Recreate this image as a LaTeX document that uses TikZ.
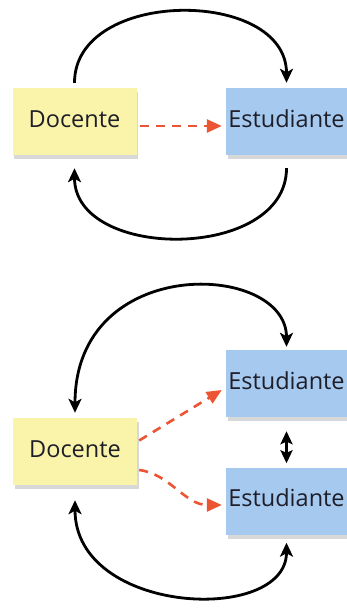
\documentclass[tikz,border=0pt]{standalone}
\usepackage{fontspec}
\setmainfont{Open Sans}
\usetikzlibrary{arrows.meta,shadows}
\definecolor{notey}{HTML}{FAF4AA}
\definecolor{noteb}{HTML}{A6C9F0}
\definecolor{dashred}{HTML}{EB5533}
\definecolor{inkc}{HTML}{1E1E28}
\begin{document}
\begin{tikzpicture}[x=1pt,y=-1pt,
  note/.style={minimum height=67pt,inner sep=0pt,text height=17pt,text depth=6pt,
    font=\fontsize{23.5}{28}\selectfont,text=inkc,
    drop shadow={shadow xshift=1.5pt,shadow yshift=-4pt,opacity=0.3}},
  docnote/.style={note,fill=notey,minimum width=124pt},
  estnote/.style={note,fill=noteb,minimum width=121pt},
  loopline/.style={line width=2.8pt,draw=black},
  reddash/.style={line width=2.6pt,draw=dashred,dash pattern=on 9pt off 7pt,
    -{Triangle[length=15pt,width=13pt]}}
]
\fill[white] (0,0) rectangle (347,608);
\useasboundingbox (0,0) rectangle (347,608);

% top section
\node[docnote] (d1) at (74.5,121.5) {Docente};
\node[estnote] (e1) at (286.5,121.5) {Estudiante};
\draw[loopline,-{Stealth[length=14pt,width=13pt,inset=3.5pt]}]
  ([yshift=5pt]d1.north) .. controls +(0,-95) and +(0,-95) .. ([yshift=5pt]e1.north);
\draw[loopline,-{Stealth[length=14pt,width=13pt,inset=3.5pt]}]
  ([yshift=-13pt]e1.south) .. controls +(0,93) and +(0,93) .. ([yshift=-13pt]d1.south);
\draw[reddash] ([xshift=3pt,yshift=-4.5pt]d1.east) -- ([xshift=-4pt,yshift=-4.5pt]e1.west);

% bottom section
\node[docnote] (d2) at (75,451.5) {Docente};
\node[estnote] (e2) at (286.5,383.5) {Estudiante};
\node[estnote] (e3) at (286.5,501) {Estudiante};
\draw[loopline,{Stealth[length=14pt,width=13pt,inset=3.5pt]}-{Stealth[length=14pt,width=13pt,inset=3.5pt]}]
  ([yshift=5pt]d2.north) .. controls +(0,-160) and +(0,-85) .. ([yshift=3pt]e2.north);
\draw[loopline,{Stealth[length=14pt,width=13pt,inset=3.5pt]}-{Stealth[length=14pt,width=13pt,inset=3.5pt]}]
  ([yshift=-15pt]d2.south) .. controls +(0,115) and +(0,82) .. ([yshift=-8pt]e3.south);
\draw[loopline,{Stealth[length=13pt,width=12pt,inset=2.5pt]}-{Stealth[length=13pt,width=12pt,inset=2.5pt]}]
  ([yshift=-14pt]e2.south) -- ([yshift=4pt]e3.north);
\draw[reddash] ([xshift=2pt,yshift=11pt]d2.east) -- ([xshift=-4pt,yshift=-6.5pt]e2.west);
\draw[reddash] ([xshift=2pt,yshift=-18.5pt]d2.east) .. controls +(31,4) and +(-37,0) .. ([xshift=-4pt,yshift=-4pt]e3.west);
\end{tikzpicture}
\end{document}
